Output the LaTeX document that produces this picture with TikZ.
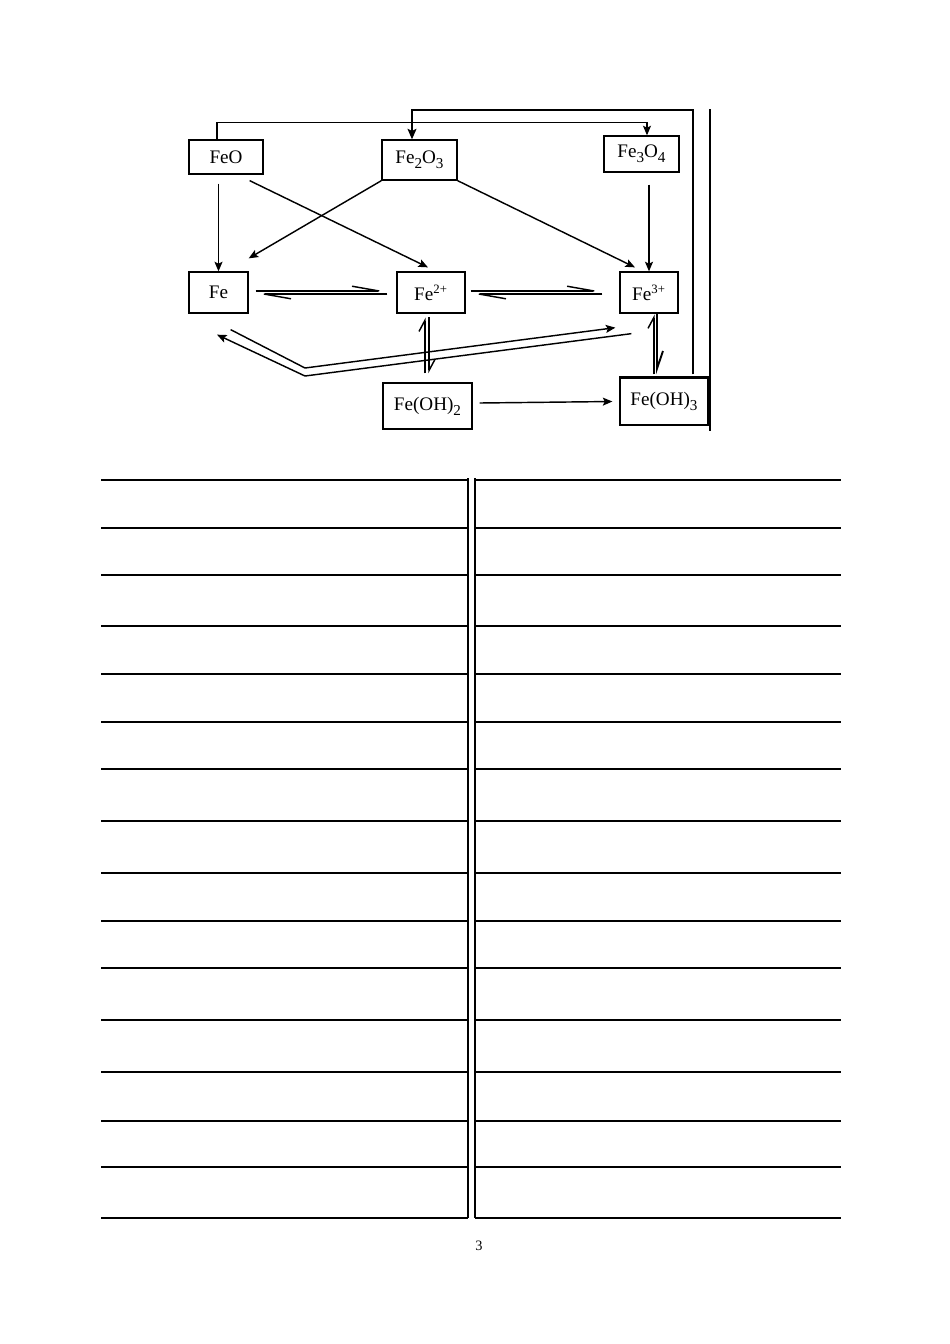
\documentclass[tikz,border=0pt]{standalone}
\usepackage{fontspec}
\setmainfont{Liberation Serif}
\usetikzlibrary{arrows.meta}
\newcommand{\lowsub}[1]{\raisebox{-0.55ex}{\fontsize{9.5}{10}\selectfont #1}}
\begin{document}
\begin{tikzpicture}[x=0.6266pt,y=-0.6266pt,every node/.style={draw,rectangle,line width=0.8pt,inner sep=0pt,font=\fontsize{12}{14}\selectfont},arr/.style={line width=0.9pt,-{Stealth[length=6pt,width=5pt,inset=1.2pt]}},harp/.style={line width=0.9pt,-{Straight Barb[left,length=17pt,width=6pt]}},vharp/.style={line width=0.9pt,-{Straight Barb[left,length=7pt,width=7.5pt]}},rule/.style={line width=0.75pt}]
\useasboundingbox (0,0) rectangle (950,1344);
\node[minimum width=46.4pt,minimum height=21.3pt] (FeO) at (226,157) {FeO};
\node[minimum width=47pt,minimum height=25.1pt] (Fe2O3) at (419.5,160) {Fe\lowsub{2}O\lowsub{3}};
\node[minimum width=47pt,minimum height=22.6pt] (Fe3O4) at (641.5,154) {Fe\lowsub{3}O\lowsub{4}};
\node[minimum width=37pt,minimum height=25.7pt] (Fe) at (218.5,292.5) {Fe};
\node[minimum width=42.6pt,minimum height=25.7pt] (Fe2) at (431,292.5) {Fe\textsuperscript{2+}};
\node[minimum width=36.3pt,minimum height=25.7pt] (Fe3) at (649,292.5) {Fe\textsuperscript{3+}};
\node[minimum width=55.8pt,minimum height=28.8pt] (FeOH2) at (427.5,406) {Fe(OH)\lowsub{2}};
\node[minimum width=55.1pt,minimum height=29.5pt] (FeOH3) at (664,401.5) {Fe(OH)\lowsub{3}};
\draw[line width=1.4pt] (FeOH3.north west) -- (FeOH3.north east);
\coordinate (bendA) at (305,368);
\coordinate (bendB) at (305,376);
% oxides
\draw[arr,shorten <=5.6pt] (FeO.south -| Fe.north) -- (Fe.north);
\draw[arr] ([shift={(-14,6)}]FeO.south east) -- ([shift={(-3,-4)}]Fe2.north);
\draw[arr] (Fe2O3.south west) -- ([shift={(0,-13)}]Fe.north east);
\draw[arr] (Fe2O3.south east) -- ([shift={(-14,-4)}]Fe3.north);
\draw[arr,shorten <=7.5pt] (Fe3O4.south -| Fe3.north) -- (Fe3.north);
\draw[line width=0.7pt,-{Stealth[length=6pt,width=5pt,inset=1.2pt]}] ([shift={(-9,0)}]FeO.north) -- ++(0,-17) -| ([shift={(5.5,0)}]Fe3O4.north);
\draw[line width=1.3pt,-{Stealth[length=6.5pt,width=5.5pt,inset=1.2pt]}] ([shift={(29,-3)}]FeOH3.north) -- ++(0,-264) -| ([shift={(-7.5,0)}]Fe2O3.north);
\draw[line width=0.9pt] ([shift={(1.5,5)}]FeOH3.south east) -- ++(0,-322);
% equilibria
\draw[harp] ([shift={(7,-1.5)}]Fe.east) -- ([shift={(-9,-1.5)}]Fe2.west);
\draw[harp] ([shift={(-9,1.5)}]Fe2.west) -- ([shift={(7,1.5)}]Fe.east);
\draw[harp] ([shift={(5,-1.5)}]Fe2.east) -- ([shift={(-17,-1.5)}]Fe3.west);
\draw[harp] ([shift={(-17,1.5)}]Fe3.west) -- ([shift={(5,1.5)}]Fe2.east);
\draw[vharp] ([shift={(-2.5,-9)}]FeOH2.north) -- ++(0,-56);
\draw[vharp] ([shift={(1.5,-65)}]FeOH2.north) -- ++(0,56);
\draw[vharp] ([shift={(-10,-3)}]FeOH3.north) -- ++(0,-60);
\draw[vharp,line width=1.2pt,-{Straight Barb[left,length=11pt,width=7.5pt]}] ([shift={(-7,-63)}]FeOH3.north) -- ++(0,60);
\draw[arr] ([shift={(-18,16)}]Fe.south east) -- (bendA) -- ([shift={(-4,14)}]Fe3.south west);
\draw[arr] ([shift={(12,20)}]Fe3.south west) -- (bendB) -- ([shift={(-1.5,21)}]Fe.south);
\draw[arr] ([shift={(7,-3)}]FeOH2.east) -- ([shift={(-7,0)}]FeOH3.west);
% table
\foreach \y in {480,528,575,626,674,722,769,821,873,921,968,1020,1072,1167,1218}
  \draw[rule] (101,\y) -- (468,\y) (475,\y) -- (841,\y);
\draw[rule,line width=1.6pt] (101,1121) -- (468,1121) (475,1121) -- (841,1121);
\draw[rule] (468,478) -- (468,1218) (475,478) -- (475,1218);
\node[draw=none,font=\fontsize{9}{10}\selectfont] (pagenum) at (479,1246) {3};
\end{tikzpicture}
\end{document}
